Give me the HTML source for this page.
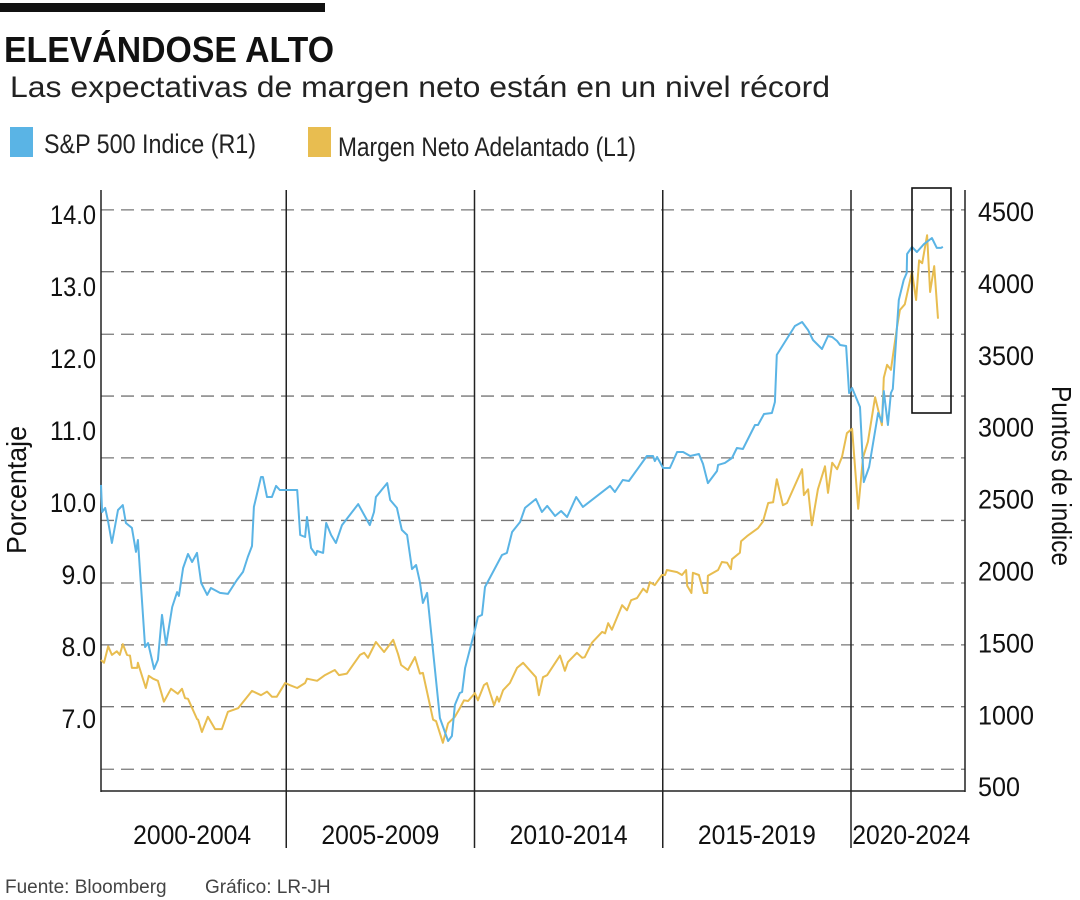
<!DOCTYPE html>
<html><head><meta charset="utf-8"><style>
html,body{margin:0;padding:0;background:#fff;}
svg{display:block;font-family:"Liberation Sans Narrow","Liberation Sans",sans-serif;}
</style></head><body>
<svg id="chart" width="1080" height="900" viewBox="0 0 1080 900" xmlns="http://www.w3.org/2000/svg">
<rect x="0" y="3" width="325" height="9" fill="#111"/>
<text x="4" y="62" font-size="36" font-weight="bold" fill="#111" textLength="330" lengthAdjust="spacingAndGlyphs">ELEVÁNDOSE ALTO</text>
<text x="10" y="97" font-size="30" fill="#222" textLength="820" lengthAdjust="spacingAndGlyphs" font-family="Liberation Sans, sans-serif">Las expectativas de margen neto están en un nivel récord</text>
<g>
<rect x="10" y="127" width="23" height="30" fill="#5ab4e5"/>
<text x="44" y="153" font-size="27" fill="#222" textLength="212" lengthAdjust="spacingAndGlyphs">S&amp;P 500 Indice (R1)</text>
<rect x="308" y="127" width="23" height="30" fill="#e8bd50"/>
<text x="338" y="156" font-size="27" fill="#222" textLength="298" lengthAdjust="spacingAndGlyphs">Margen Neto Adelantado (L1)</text>
</g>
<g id="grid"></g>
<g id="frame"></g>
<g id="series"></g>
<g id="labels"></g>
<rect x="912" y="188" width="39" height="225" fill="none" stroke="#111" stroke-width="1.6"/>
<text x="5" y="893" font-size="19" fill="#444" font-family="Liberation Sans, sans-serif">Fuente: Bloomberg</text>
<text x="205" y="893" font-size="19" fill="#444" font-family="Liberation Sans, sans-serif">Gráfico: LR-JH</text>
</svg>
<script>
const spYears=[0.08,0.11,0.19,0.27,0.37,0.53,0.66,0.74,0.90,1.01,1.06,1.25,1.33,1.49,1.59,1.70,1.81,1.97,2.10,2.15,2.26,2.39,2.50,2.63,2.74,2.90,3.00,3.24,3.45,3.69,3.85,3.98,4.09,4.14,4.33,4.38,4.49,4.62,4.73,4.83,5.29,5.37,5.50,5.55,5.66,5.79,5.82,5.98,6.06,6.19,6.32,6.48,6.91,7.22,7.33,7.38,7.68,7.76,7.94,8.07,8.21,8.34,8.45,8.55,8.63,8.74,9.08,9.30,9.40,9.48,9.61,9.67,9.75,10.01,10.09,10.20,10.28,10.73,10.86,11.00,11.21,11.34,11.63,11.79,11.93,12.14,12.30,12.46,12.70,12.88,13.60,13.73,13.94,14.10,14.58,14.74,14.79,14.85,15.01,15.19,15.38,15.54,15.73,15.96,16.07,16.20,16.44,16.47,16.65,16.84,16.97,17.13,17.45,17.53,17.69,17.90,17.98,18.03,18.51,18.70,18.86,18.99,19.23,19.39,19.50,19.63,19.71,19.87,19.95,20.03,20.24,20.34,20.48,20.72,20.82,20.87,20.98,21.06,21.11,21.27,21.40,21.48,21.49,21.62,21.75,21.94,22.15,22.28,22.39,22.44];
const spValues=[2602,2414,2442,2344,2198,2428,2462,2337,2303,2136,2219,1475,1503,1322,1385,1698,1489,1753,1857,1830,2024,2122,2066,2129,1920,1837,1885,1851,1844,1941,1997,2101,2177,2449,2657,2657,2518,2518,2595,2567,2567,2254,2240,2379,2163,2115,2143,2129,2337,2254,2198,2323,2469,2323,2414,2518,2615,2497,2442,2289,2254,2017,2045,1927,1781,1851,981,821,856,1072,1155,1162,1329,1593,1684,1698,1892,2115,2129,2275,2344,2442,2504,2414,2456,2386,2421,2379,2518,2449,2595,2553,2636,2629,2803,2803,2768,2796,2720,2720,2831,2831,2803,2817,2748,2615,2699,2741,2755,2789,2859,2852,3019,3019,3095,3102,3179,3506,3707,3735,3679,3610,3547,3638,3631,3603,3575,3568,3241,3276,3144,2622,2727,3102,3040,3255,3019,3241,3269,3888,4027,4076,4208,4257,4222,4277,4319,4250,4250,4257];
const mgYears=[0.08,0.16,0.27,0.37,0.50,0.58,0.66,0.77,0.85,0.90,1.04,1.06,1.27,1.35,1.46,1.59,1.75,1.94,2.12,2.23,2.31,2.39,2.63,2.66,2.76,2.92,3.11,3.29,3.45,3.72,4.09,4.33,4.49,4.62,4.75,4.97,5.10,5.29,5.50,5.55,5.82,6.03,6.29,6.40,6.61,6.96,7.07,7.17,7.38,7.60,7.84,7.97,8.05,8.23,8.42,8.55,8.63,8.90,8.98,9.16,9.30,9.48,9.61,9.72,9.83,10.01,10.09,10.25,10.33,10.52,10.60,10.65,10.76,10.94,11.13,11.29,11.63,11.71,11.82,11.93,12.27,12.40,12.48,12.72,12.86,12.93,13.12,13.39,13.47,13.55,13.65,13.92,14.05,14.16,14.32,14.48,14.58,14.66,14.79,14.98,15.06,15.11,15.38,15.51,15.62,15.65,15.76,15.80,15.96,16.09,16.18,16.20,16.47,16.57,16.71,16.81,16.84,17.05,17.08,17.24,17.53,17.66,17.80,17.93,18.03,18.19,18.30,18.70,18.75,18.86,18.96,19.12,19.31,19.39,19.50,19.63,19.76,19.89,20.03,20.19,20.32,20.45,20.64,20.82,20.87,20.96,21.06,21.22,21.30,21.43,21.62,21.73,21.81,21.89,22.02,22.10,22.21,22.31];
const mgValues=[7.82,7.78,8.01,7.89,7.94,7.89,8.04,7.89,7.88,7.71,7.71,7.78,7.43,7.60,7.56,7.53,7.24,7.42,7.35,7.42,7.29,7.28,7.00,6.99,6.82,7.03,6.86,6.86,7.10,7.15,7.39,7.33,7.38,7.31,7.31,7.50,7.47,7.43,7.50,7.56,7.53,7.61,7.68,7.61,7.63,7.89,7.92,7.85,8.07,7.93,8.10,7.90,7.75,7.68,7.86,7.63,7.64,6.99,6.97,6.67,6.94,7.03,7.15,7.26,7.25,7.36,7.26,7.47,7.50,7.19,7.31,7.24,7.40,7.50,7.71,7.78,7.58,7.33,7.58,7.61,7.88,7.67,7.79,7.92,7.85,7.86,8.06,8.21,8.19,8.33,8.24,8.58,8.51,8.65,8.68,8.81,8.76,8.90,8.86,9.00,9.00,9.07,9.04,9.00,9.07,8.85,8.75,9.03,9.00,8.75,8.75,8.99,9.07,9.18,9.17,9.08,9.22,9.31,9.47,9.54,9.65,9.74,10.00,10.01,10.33,9.97,10.00,10.47,10.11,10.19,9.69,10.19,10.51,10.14,10.56,10.47,10.64,10.97,11.03,9.92,10.63,10.85,11.47,11.08,11.74,11.92,11.85,12.43,12.68,12.76,13.21,12.82,13.37,13.33,13.72,12.93,13.29,12.56];
const leftTicks=["14.0","13.0","12.0","11.0","10.0","9.0","8.0","7.0"];
const leftTickValues=[14,13,12,11,10,9,8,7];
const rightTicks=["4500","4000","3500","3000","2500","2000","1500","1000","500"];
const rightTickValues=[4500,4000,3500,3000,2500,2000,1500,1000,500];
const periods=["2000-2004","2005-2009","2010-2014","2015-2019","2020-2024"];
const periodStarts=[0,5,10,15,20];
const gridLevels=[4515,4085,3650,3220,2790,2355,1920,1490,1060,625];

const NS="http://www.w3.org/2000/svg";
function xS(yr){return 98+yr*37.65;}
function yR(v){return 212+(4500-v)/500*71.9;}
function yL(m){return 215+(14-m)*72;}
function mk(tag,attrs,parent){const e=document.createElementNS(NS,tag);for(const k in attrs)e.setAttribute(k,attrs[k]);parent.appendChild(e);return e;}
const grid=document.getElementById('grid'),frame=document.getElementById('frame'),series=document.getElementById('series'),labels=document.getElementById('labels');
gridLevels.forEach(g=>{const l=mk('line',{x1:101,x2:965,y1:yR(g),y2:yR(g),stroke:'#777','stroke-width':1.3,'stroke-dasharray':'13 7'},grid);

});
let a=mk('line',{x1:101,x2:101,y1:190,y2:792,stroke:'#222','stroke-width':1.5},frame);


a=mk('line',{x1:965,x2:965,y1:190,y2:792,stroke:'#222','stroke-width':1.5},frame);


a=mk('line',{x1:101,x2:965,y1:791,y2:791,stroke:'#222','stroke-width':1.5},frame);


periodStarts.forEach((p,i)=>{
 if(i>0){const s=mk('line',{x1:xS(p),x2:xS(p),y1:190,y2:848,stroke:'#222','stroke-width':1.5},frame);
 
 }
 const end=i<periodStarts.length-1?periodStarts[i+1]:23.2;
 const t=mk('text',{x:(xS(p)+xS(end))/2,y:844,'font-size':27,'text-anchor':'middle',fill:'#111',textLength:118,lengthAdjust:'spacingAndGlyphs'},labels);
 t.textContent=periods[i];
 
 
});
leftTicks.forEach((s,i)=>{const t=mk('text',{x:96,y:yL(leftTickValues[i])+9,'font-size':27,'text-anchor':'end',fill:'#111',textLength:s.length*11.5,lengthAdjust:'spacingAndGlyphs'},labels);
t.textContent=s;

});
rightTicks.forEach((s,i)=>{const t=mk('text',{x:978,y:yR(rightTickValues[i])+9,'font-size':27,fill:'#111',textLength:s.length*14,lengthAdjust:'spacingAndGlyphs'},labels);
t.textContent=s;

});
let yt=mk('text',{x:0,y:0,'font-size':28,'text-anchor':'middle',fill:'#111',transform:'translate(26,490) rotate(-90)',textLength:128,lengthAdjust:'spacingAndGlyphs'},labels);
yt.textContent='Porcentaje';


yt=mk('text',{x:0,y:0,'font-size':28,'text-anchor':'middle',fill:'#111',transform:'translate(1052,476) rotate(90)',textLength:180,lengthAdjust:'spacingAndGlyphs'},labels);
yt.textContent='Puntos de indice';


function path(xs,vs,f){return xs.map((x,i)=>(i?'L':'M')+xS(x).toFixed(1)+','+f(vs[i]).toFixed(1)).join(' ');}
let p=mk('path',{d:path(mgYears,mgValues,yL),fill:'none',stroke:'#e8bd50','stroke-width':2,'stroke-linejoin':'round'},series);


p=mk('path',{d:path(spYears,spValues,yR),fill:'none',stroke:'#5ab4e5','stroke-width':2,'stroke-linejoin':'round'},series);


</script>
</body></html>
